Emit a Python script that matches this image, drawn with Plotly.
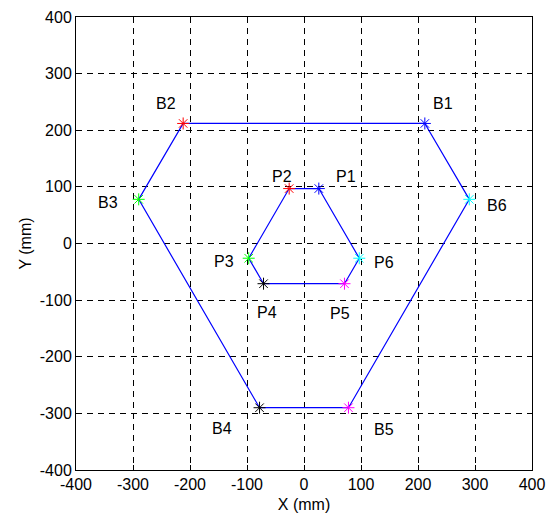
import plotly.graph_objects as go

# Base (B) and platform (P) joint points, mm
b_names = ["B1", "B2", "B3", "B4", "B5", "B6"]
b_x = [212, -212, -290, -78, 78, 290]
b_y = [212, 212, 78, -290, -290, 78]

p_names = ["P1", "P2", "P3", "P4", "P5", "P6"]
p_x = [26, -26, -97, -71, 71, 97]
p_y = [97, 97, -26, -71, -71, -26]

point_colors = ["#0000FF", "#FF0000", "#00FF00", "#000000", "#FF00FF", "#00FFFF"]

# label offsets (mm) relative to each point
b_off = [(32, 36), (-30, 36), (-54, -6), (-66, -36), (62, -39), (49, -10)]
p_off = [(48, 22), (-13, 22), (-43, -5), (6, -50), (-8, -52), (43, -7)]

ticks = [-400, -300, -200, -100, 0, 100, 200, 300, 400]

FONT = "Liberation Sans, Arial"
FS = 16

fig = go.Figure()

# hexagon outlines
fig.add_trace(go.Scatter(x=b_x + [b_x[0]], y=b_y + [b_y[0]], mode="lines",
                         line=dict(color="#0000FF", width=1.2), showlegend=False,
                         hoverinfo="skip"))
fig.add_trace(go.Scatter(x=p_x + [p_x[0]], y=p_y + [p_y[0]], mode="lines",
                         line=dict(color="#0000FF", width=1.2), showlegend=False,
                         hoverinfo="skip"))

for xs, ys in ((b_x, b_y), (p_x, p_y)):
    for i in range(6):
        fig.add_trace(go.Scatter(x=[xs[i]], y=[ys[i]], mode="markers",
                                 marker=dict(symbol="asterisk-open", size=10,
                                             color=point_colors[i],
                                             line=dict(color=point_colors[i], width=1)),
                                 showlegend=False))

for names, xs, ys, offs in ((b_names, b_x, b_y, b_off), (p_names, p_x, p_y, p_off)):
    for n, x, y, (dx, dy) in zip(names, xs, ys, offs):
        fig.add_annotation(x=x + dx, y=y + dy, text=n, showarrow=False,
                           font=dict(family=FONT, size=FS, color="black"),
                           xanchor="center", yanchor="middle")

axis_common = dict(
    tickvals=ticks, ticktext=[str(t) for t in ticks],
    showline=True, linecolor="black", linewidth=1, mirror="ticks",
    ticks="inside", ticklen=5, tickcolor="black",
    showgrid=True, gridcolor="black", gridwidth=1, griddash="6px,5px",
    zeroline=False, automargin=False,
    tickfont=dict(family=FONT, size=FS, color="black"),
    title_font=dict(family=FONT, size=FS, color="black"),
)

fig.update_xaxes(range=[-400, 400], title_text="X (mm)", title_standoff=6, **axis_common)
fig.update_yaxes(range=[-400, 400], title_text="Y (mm)", title_standoff=4, **axis_common)

fig.update_layout(
    width=548, height=521,
    margin=dict(l=76, r=16, t=17, b=51),
    paper_bgcolor="white", plot_bgcolor="white",
    font=dict(family=FONT, size=FS, color="black"),
)

fig.write_html("out.html")
